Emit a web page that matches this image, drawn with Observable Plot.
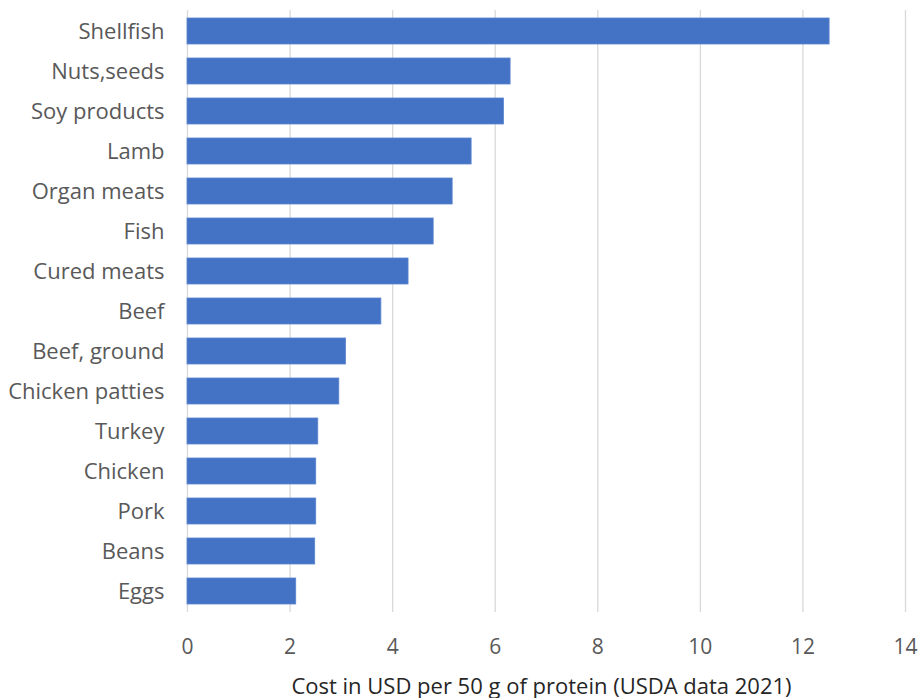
<!DOCTYPE html>
<html>
<head>
<meta charset="utf-8">
<script src="https://cdn.jsdelivr.net/npm/d3@7"></script>
<script src="https://cdn.jsdelivr.net/npm/@observablehq/plot@0.6"></script>
<style>
  html, body { margin: 0; padding: 0; background: #fff; }
  #chart svg { display: block; }
</style>
</head>
<body>
<div id="chart"></div>
<script>
// Protein sources and their cost per 50 g of protein (USD, USDA 2021)
const foods = [
  "Shellfish", "Nuts,seeds", "Soy products", "Lamb", "Organ meats", "Fish",
  "Cured meats", "Beef", "Beef, ground", "Chicken patties", "Turkey",
  "Chicken", "Pork", "Beans", "Eggs"
];
const costs = [
  12.52, 6.30, 6.17, 5.54, 5.17, 4.80,
  4.31, 3.78, 3.09, 2.96, 2.55,
  2.51, 2.51, 2.49, 2.12
];
const xTicks = [0, 2, 4, 6, 8, 10, 12, 14];
const xTitle = "Cost in USD per 50 g of protein (USDA data 2021)";

const data = foods.map((food, i) => ({food, cost: costs[i]}));

const chart = Plot.plot({
  width: 919,
  height: 698,
  marginTop: 10,
  marginBottom: 86,
  marginLeft: 187,
  marginRight: 14,
  style: {fontFamily: "'Open Sans', sans-serif", fontSize: "22px", color: "#595959", background: "#fff"},
  x: {domain: [0, 14], ticks: xTicks},
  y: {domain: foods, paddingInner: 0.35, paddingOuter: 0.175},
  marks: [
    Plot.gridX(xTicks, {stroke: "#d9d9d9", strokeOpacity: 1, strokeWidth: 1.3}),
    Plot.barX(data, {x: "cost", y: "food", fill: "#4472C4", stroke: "#5a84cf", strokeWidth: 0.8}),
    Plot.axisX(xTicks, {
      tickSize: 0, tickPadding: 27, fontSize: 21, fill: "#595959",
      label: null, tickFormat: d => d
    }),
    Plot.axisY({tickSize: 0, tickPadding: 23, fontSize: 22, fill: "#595959", label: null}),
    Plot.text([xTitle], {
      frameAnchor: "bottom", dx: -5, dy: 81, fontSize: 22, fill: "#262626", text: d => d
    })
  ]
});

document.getElementById("chart").append(chart);
</script>
</body>
</html>
